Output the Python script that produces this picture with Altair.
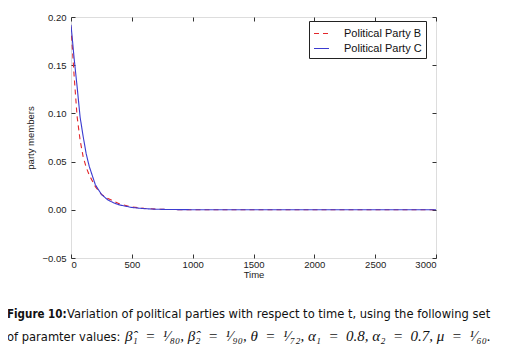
import altair as alt
import pandas as pd

time = [0, 25, 50, 75, 100, 125, 150, 200, 250, 300, 350, 400, 500, 600, 700, 800, 1000, 1500, 2000, 2500, 3000]
party_b = [0.190, 0.140, 0.097, 0.072, 0.055, 0.044, 0.036, 0.024, 0.016, 0.012, 0.009, 0.006, 0.003, 0.0015, 0.0007, 0.0003, 0.0001, 0.0, 0.0, 0.0, 0.0]
party_c = [0.192, 0.158, 0.128, 0.096, 0.076, 0.058, 0.045, 0.026, 0.016, 0.0105, 0.0072, 0.005, 0.0024, 0.0012, 0.0006, 0.0003, 0.0001, 0.0, 0.0, 0.0, 0.0]
series = ["Political Party B", "Political Party C"]
colors = ["#e3272b", "#3b3bd0"]
dashes = [[5, 4], [1, 0]]
x_ticks = [0, 500, 1000, 1500, 2000, 2500, 3000]
y_ticks = [-0.05, 0.0, 0.05, 0.10, 0.15, 0.20]

rows = []
for s, vals in zip(series, [party_b, party_c]):
    for t, v in zip(time, vals):
        rows.append({"Time": t, "value": v, "series": s})
df = pd.DataFrame(rows)

E = "\u2002"
caption_bold = "Figure 10:"
caption_1 = "Variation of political parties with respect to time t, using the following set"
caption_2 = "of paramter values:"
caption_math = (f"β̂₁{E}={E}¹⁄₈₀, β̂₂{E}={E}¹⁄₉₀, θ{E}={E}¹⁄₇₂, "
                f"α₁{E}={E}0.8, α₂{E}={E}0.7, μ{E}={E}¹⁄₆₀.")

NARROW = "DejaVu Sans Condensed, Roboto Condensed, Liberation Sans Narrow, Roboto, sans-serif"

axis_common = dict(domain=False, tickColor="#333", tickSize=4, offset=-4,
                   labelFont="Liberation Sans", labelFontSize=9.5, labelColor="#222",
                   titleFont="Liberation Sans", titleFontSize=9.5, titleFontWeight="normal",
                   titleColor="#222", grid=False)

xs = alt.Scale(domain=[0, 3000], nice=False, zero=False)
ys = alt.Scale(domain=[-0.05, 0.20], nice=False, zero=False)

lines = alt.Chart(df).mark_line(strokeWidth=1.1, clip=True).encode(
    x=alt.X("Time:Q", scale=xs,
            axis=alt.Axis(values=x_ticks, format="d", labelPadding=1, title="Time",
                          titlePadding=1, **axis_common)),
    y=alt.Y("value:Q", scale=ys,
            axis=alt.Axis(values=y_ticks, format=".2f", labelPadding=5, title="party members",
                          titlePadding=6, **axis_common)),
    color=alt.Color("series:N", scale=alt.Scale(domain=series, range=colors),
                    legend=alt.Legend(title=None, orient="none", legendX=238, legendY=4,
                                      symbolType="stroke", symbolSize=225, symbolStrokeWidth=1.2,
                                      labelFont="Liberation Sans", labelFontSize=11, labelColor="#111",
                                      labelOffset=14, rowPadding=1, padding=4,
                                      strokeColor="#222", fillColor="white", cornerRadius=0)),
    strokeDash=alt.StrokeDash("series:N", scale=alt.Scale(domain=series, range=dashes), legend=None),
)

frame_axes = alt.Chart(df[df.series == series[1]]).mark_line(opacity=0).encode(
    x=alt.X("Time:Q", scale=xs,
            axis=alt.Axis(orient="top", values=x_ticks, labels=False, title=None, **axis_common)),
    y=alt.Y("value:Q", scale=ys,
            axis=alt.Axis(orient="right", values=y_ticks, labels=False, title=None, **axis_common)),
)

cap = pd.DataFrame({"a": [0]})
t1 = alt.Chart(cap).mark_text(text=caption_bold, font=NARROW, fontWeight="bold",
                              fontSize=11.5, align="left", baseline="alphabetic", color="#111").encode(
    x=alt.value(-64), y=alt.value(301))
t2 = alt.Chart(cap).mark_text(text=caption_1, font=NARROW,
                              fontSize=12.8, align="left", baseline="alphabetic", color="#111").encode(
    x=alt.value(-4), y=alt.value(301))
t3 = alt.Chart(cap).mark_text(text=caption_2, font=NARROW,
                              fontSize=12.8, align="left", baseline="alphabetic", color="#111").encode(
    x=alt.value(-64), y=alt.value(324))
t4 = alt.Chart(cap).mark_text(text=caption_math, font="Liberation Serif", fontStyle="italic",
                              fontSize=15, align="left", baseline="alphabetic", color="#111").encode(
    x=alt.value(54), y=alt.value(324))

chart = alt.layer(lines, frame_axes, t1, t2, t3, t4).resolve_scale(
    x="independent", y="independent"
).properties(
    width=365, height=241,
    autosize=alt.AutoSizeParams(type="none"),
    padding={"left": 63, "top": 9, "right": 61, "bottom": 90},
).configure_view(stroke="#444", strokeWidth=1).configure(background="white")

chart.save("out.html", embed_options={"renderer": "svg", "actions": False})
